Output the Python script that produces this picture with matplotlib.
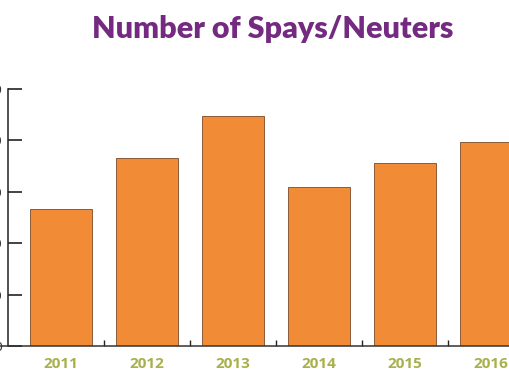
import matplotlib.pyplot as plt
from matplotlib.ticker import FixedLocator

years = ['2011', '2012', '2013', '2014', '2015', '2016']
counts = [266, 366, 447, 309, 356, 397]
yticks = [0, 100, 200, 300, 400, 500]

bar_color = '#F28B36'
label_color = '#A8B04C'
title_color = '#742A80'

fig = plt.figure(figsize=(5.1, 3.82), dpi=100)
ax = fig.add_axes([0, 1 - 346 / 382, 1, (346 - 89) / 382])

pos = list(range(len(years)))
ax.bar(pos, counts, width=0.716, color=bar_color, edgecolor='#8A5A3A', linewidth=0.7)

ax.set_xlim(-0.709, 5.221)
ax.set_ylim(0, 500)

for s in ['top', 'right']:
    ax.spines[s].set_visible(False)
ax.spines['left'].set_position(('data', -0.616))
ax.spines['left'].set_linewidth(1.1)
ax.spines['left'].set_color('#222222')
ax.spines['bottom'].set_linewidth(1.1)
ax.spines['bottom'].set_color('#333333')

# y labels sit mostly off the left edge, like the cropped original
ax.set_yticks(yticks)
ax.set_yticklabels([str(v) for v in yticks], fontsize=9, color='#333333')
ax.tick_params(axis='y', direction='in', length=10, width=1.2, color='#222222', pad=4)

ax.set_xticks(pos)
ax.set_xticklabels(years, fontsize=11, fontweight='bold', color=label_color, family='Open Sans')
ax.tick_params(axis='x', which='major', length=0, pad=8)
ax.xaxis.set_minor_locator(FixedLocator([p + 0.5 for p in pos]))
ax.tick_params(axis='x', which='minor', direction='in', length=4, width=1.0, color='#222222')

fig.text(0.535, 1 - 29 / 382, 'Number of Spays/Neuters', ha='center', va='center',
         fontsize=22, fontweight='heavy', color=title_color, family='Lato')

fig.savefig('out.png', dpi=100)
